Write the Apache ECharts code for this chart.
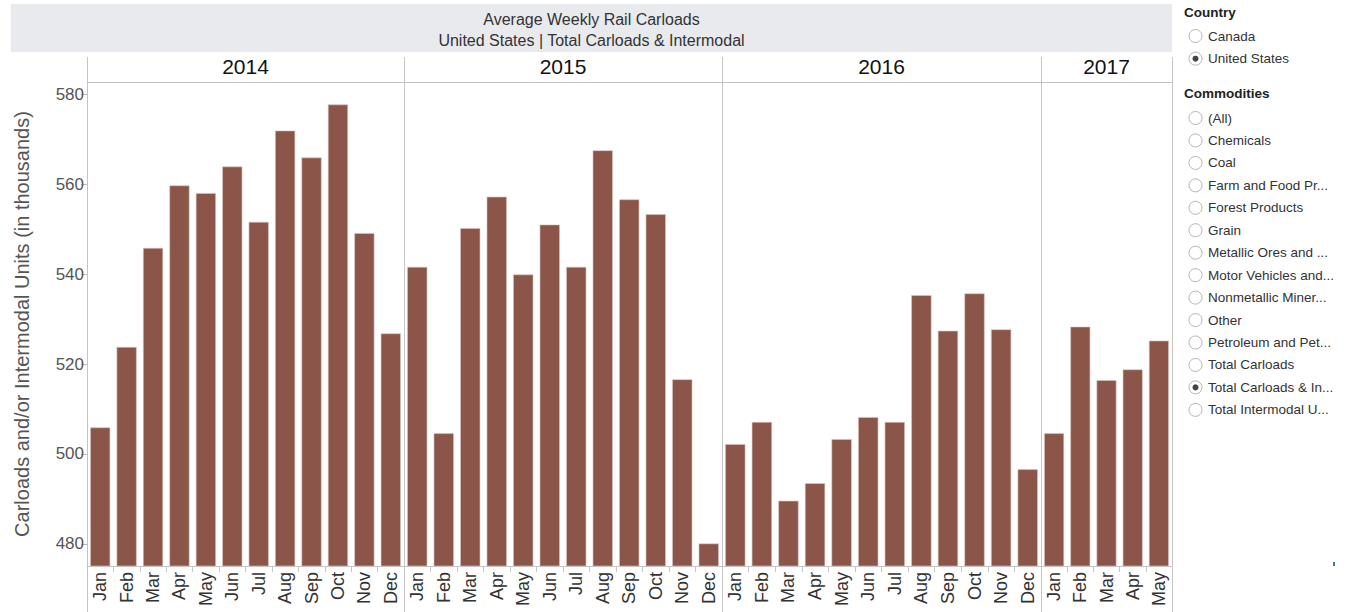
<!DOCTYPE html>
<html>
<head>
<meta charset="utf-8">
<script src="https://cdn.jsdelivr.net/npm/echarts@6/dist/echarts.min.js"></script>
<style>
html,body{margin:0;padding:0;background:#fff;}
#chart{width:1348px;height:612px;}
</style>
</head>
<body>
<div id="chart"></div>
<script>
// ---- data ----
const years = ['2014', '2015', '2016', '2017'];
const months2014 = ['Jan','Feb','Mar','Apr','May','Jun','Jul','Aug','Sep','Oct','Nov','Dec'];
const months2015 = ['Jan','Feb','Mar','Apr','May','Jun','Jul','Aug','Sep','Oct','Nov','Dec'];
const months2016 = ['Jan','Feb','Mar','Apr','May','Jun','Jul','Aug','Sep','Oct','Nov','Dec'];
const months2017 = ['Jan','Feb','Mar','Apr','May'];
const values2014 = [505.9, 523.8, 545.8, 559.7, 558.0, 563.9, 551.6, 571.9, 565.9, 577.7, 549.1, 526.8];
const values2015 = [541.6, 504.6, 550.2, 557.2, 539.9, 551.0, 541.6, 567.5, 556.6, 553.3, 516.6, 480.1];
const values2016 = [502.2, 507.1, 489.6, 493.5, 503.3, 508.2, 507.1, 535.3, 527.4, 535.7, 527.7, 496.6];
const values2017 = [504.6, 528.3, 516.4, 518.8, 525.2];
const yTicks = [480, 500, 520, 540, 560, 580];
const titleLines = ['Average Weekly Rail Carloads', 'United States | Total Carloads & Intermodal'];
const yAxisName = 'Carloads and/or Intermodal Units (in thousands)';
const countryHeader = 'Country';
const countries = ['Canada', 'United States'];
const countrySelected = 'United States';
const commoditiesHeader = 'Commodities';
const commodities = ['(All)', 'Chemicals', 'Coal', 'Farm and Food Pr...', 'Forest Products', 'Grain',
  'Metallic Ores and ...', 'Motor Vehicles and...', 'Nonmetallic Miner...', 'Other',
  'Petroleum and Pet...', 'Total Carloads', 'Total Carloads & In...', 'Total Intermodal U...'];
const commoditySelected = 'Total Carloads & In...';

// ---- layout ----
const monthSets = [months2014, months2015, months2016, months2017];
const valueSets = [values2014, values2015, values2016, values2017];
const bounds = [87, 404, 722, 1041, 1172];
const GRID_TOP = 82, GRID_BOTTOM_Y = 566, HEADER_TOP = 57, H = 612;
const Y_MIN = 475.1, Y_MAX = 582.7;
const FONT = '"Liberation Sans", Arial, sans-serif';
const LINE = '#c4c4c4';
const BAR = '#8b5649';

const chart = echarts.init(document.getElementById('chart'), null, {renderer: 'svg'});

const grid = [], xAxis = [], yAxis = [], series = [];
years.forEach((yr, i) => {
  grid.push({left: bounds[i], width: bounds[i+1] - bounds[i], top: GRID_TOP, height: GRID_BOTTOM_Y - GRID_TOP, containLabel: false});
  xAxis.push({
    type: 'category', gridIndex: i, data: monthSets[i], position: 'bottom',
    axisLine: {show: true, lineStyle: {color: LINE, width: 1}},
    axisTick: {show: true, length: 6, lineStyle: {color: LINE}},
    axisLabel: {rotate: 90, interval: 0, fontSize: 18, color: '#333', margin: 6, fontFamily: FONT}
  });
  xAxis.push({
    type: 'category', gridIndex: i, data: [yr], position: 'top',
    axisLine: {show: true, lineStyle: {color: LINE, width: 1}},
    axisTick: {show: false},
    axisLabel: {fontSize: 21, color: '#111', margin: 5, fontFamily: FONT}
  });
  yAxis.push({
    type: 'value', gridIndex: i, min: Y_MIN, max: Y_MAX,
    axisLine: {show: false},
    splitLine: {show: false},
    axisTick: {show: i === 0, length: 6, lineStyle: {color: '#bbb'}, customValues: yTicks},
    axisLabel: {show: i === 0, fontSize: 17, color: '#555', margin: 3, fontFamily: FONT, customValues: yTicks},
    name: i === 0 ? yAxisName : '',
    nameLocation: 'middle', nameGap: 55, nameRotate: 90,
    nameTextStyle: {fontSize: 20, color: '#555', fontFamily: FONT}
  });
  series.push({
    type: 'bar', xAxisIndex: i * 2, yAxisIndex: i, data: valueSets[i],
    barCategoryGap: '24%',
    itemStyle: {color: BAR, borderColor: '#d9c6c1', borderWidth: 0.6},
    silent: true, animation: false
  });
});

const graphic = [];
// title band
graphic.push({type: 'rect', shape: {x: 11, y: 4, width: 1161, height: 48}, style: {fill: '#e9eaee'}, silent: true, z: 0});
graphic.push({type: 'text', x: 591.5, y: 19, style: {text: titleLines[0], font: '16px ' + FONT, fill: '#333', align: 'center', verticalAlign: 'middle'}, z: 1});
graphic.push({type: 'text', x: 591.5, y: 40, style: {text: titleLines[1], font: '16px ' + FONT, fill: '#333', align: 'center', verticalAlign: 'middle'}, z: 1});
// panel separators
bounds.forEach(b => {
  graphic.push({type: 'line', shape: {x1: b + 0.5, y1: HEADER_TOP, x2: b + 0.5, y2: H}, style: {stroke: LINE, lineWidth: 1}, z: 5, silent: true});
});
// right-hand filter panel
const RX = 1184, CX = 1195.5, TX = 1208;
function radio(y, label, selected) {
  graphic.push({type: 'circle', shape: {cx: CX, cy: y, r: 6.5}, style: {fill: '#fff', stroke: '#b5b5b5', lineWidth: 1}, z: 5});
  if (selected) graphic.push({type: 'circle', shape: {cx: CX, cy: y, r: 3}, style: {fill: '#444'}, z: 6});
  graphic.push({type: 'text', x: TX, y: y, style: {text: label, font: '13.5px ' + FONT, fill: '#333', verticalAlign: 'middle'}, z: 5});
}
graphic.push({type: 'text', x: RX, y: 12, style: {text: countryHeader, font: 'bold 13.5px ' + FONT, fill: '#222', verticalAlign: 'middle'}, z: 5});
countries.forEach((c, k) => radio(36 + k * 22.7, c, c === countrySelected));
graphic.push({type: 'text', x: RX, y: 93, style: {text: commoditiesHeader, font: 'bold 13.5px ' + FONT, fill: '#222', verticalAlign: 'middle'}, z: 5});
commodities.forEach((c, k) => radio(118 + k * 22.45, c, c === commoditySelected));
// tiny blue mark
graphic.push({type: 'rect', shape: {x: 1333, y: 562, width: 2, height: 4}, style: {fill: '#2a7fd0'}, z: 5});

chart.setOption({
  backgroundColor: '#fff',
  animation: false,
  textStyle: {fontFamily: FONT},
  grid, xAxis, yAxis, series, graphic
});
</script>
</body>
</html>
